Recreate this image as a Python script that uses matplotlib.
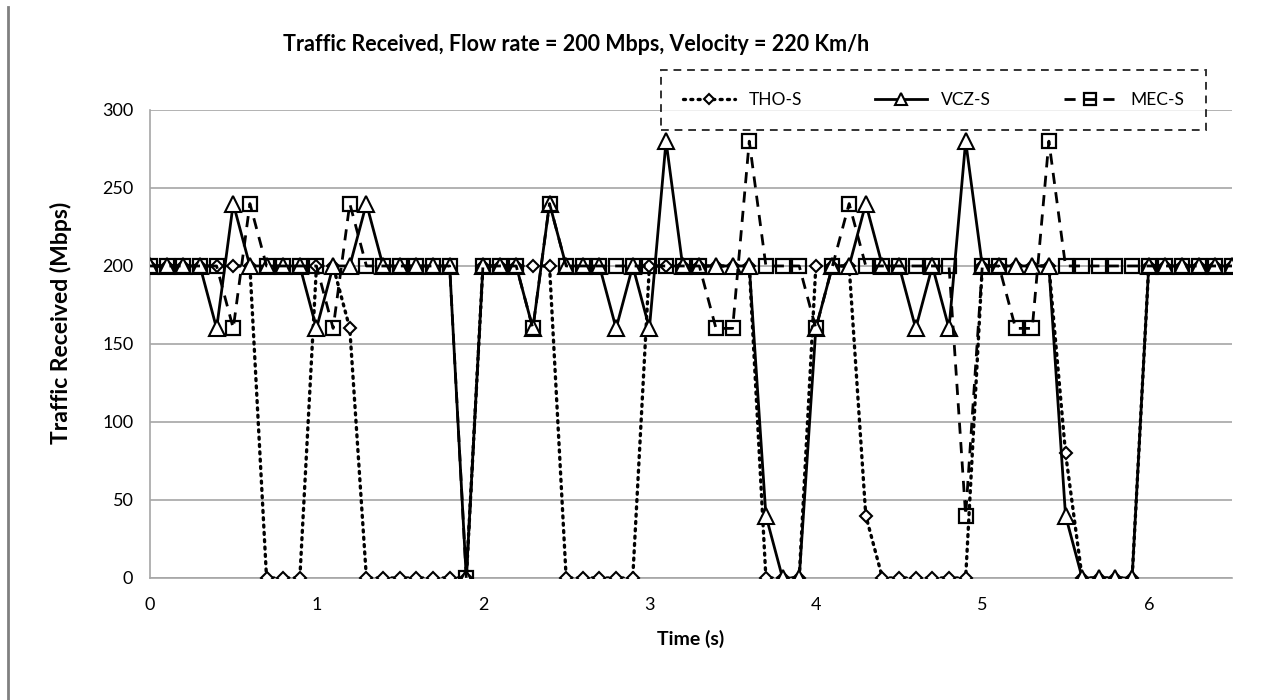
import numpy as np
import matplotlib.pyplot as plt
from matplotlib.lines import Line2D

plt.rcParams['font.family'] = ['Lato', 'DejaVu Sans']

# time axis, 0.0 .. 6.5 s in 0.1 s steps
time_s = np.round(np.arange(0, 6.51, 0.1), 1)

tho_s = [200, 200, 200, 200, 200, 200, 200, 0, 0, 0,
         200, 200, 160, 0, 0, 0, 0, 0, 0, 0,
         200, 200, 200, 200, 200, 0, 0, 0, 0, 0,
         200, 200, 200, 200, 200, 200, 200, 0, 0, 0,
         200, 200, 200, 40, 0, 0, 0, 0, 0, 0,
         200, 200, 200, 200, 200, 80, 0, 0, 0, 0,
         200, 200, 200, 200, 200, 200]

vcz_s = [200, 200, 200, 200, 160, 240, 200, 200, 200, 200,
         160, 200, 200, 240, 200, 200, 200, 200, 200, 0,
         200, 200, 200, 160, 240, 200, 200, 200, 160, 200,
         160, 280, 200, 200, 200, 200, 200, 40, 0, 0,
         160, 200, 200, 240, 200, 200, 160, 200, 160, 280,
         200, 200, 200, 200, 200, 40, 0, 0, 0, 0,
         200, 200, 200, 200, 200, 200]

mec_s = [200, 200, 200, 200, 200, 160, 240, 200, 200, 200,
         200, 160, 240, 200, 200, 200, 200, 200, 200, 0,
         200, 200, 200, 160, 240, 200, 200, 200, 200, 200,
         200, 200, 200, 200, 160, 160, 280, 200, 200, 200,
         160, 200, 240, 200, 200, 200, 200, 200, 200, 40,
         200, 200, 160, 160, 280, 200, 200, 200, 200, 200,
         200, 200, 200, 200, 200, 200]

fig = plt.figure(figsize=(12.65, 7), dpi=100)
ax = fig.add_axes([0.1186, 0.1743, 0.8553, 0.6686])

ax.plot(time_s, tho_s, linestyle=(0, (0.6, 1.6)), dash_capstyle='round', color='black', lw=2.4,
        marker='D', markersize=6.5, markerfacecolor='white', markeredgecolor='black',
        markeredgewidth=1.5, label='THO-S', zorder=3)
ax.plot(time_s, vcz_s, linestyle='-', color='black', lw=2,
        marker='^', markersize=11, markerfacecolor='white', markeredgecolor='black',
        markeredgewidth=1.5, label='VCZ-S', zorder=4)
ax.plot(time_s, mec_s, linestyle=(0, (4, 3)), color='black', lw=2,
        marker='s', markersize=10, markerfacecolor='none', markeredgecolor='black',
        markeredgewidth=1.6, label='MEC-S', zorder=5)

ax.set_xlim(0, 6.5)
ax.set_ylim(0, 300)
ax.set_xticks([0, 1, 2, 3, 4, 5, 6])
ax.set_yticks([0, 50, 100, 150, 200, 250, 300])
ax.tick_params(length=0, labelsize=13, pad=12)
ax.tick_params(axis='x', pad=14)
ax.yaxis.grid(True, color='#a6a6a6', lw=1.2)
ax.set_axisbelow(True)
for side in ['top', 'right']:
    ax.spines[side].set_visible(False)
for side in ['left', 'bottom']:
    ax.spines[side].set_color('#a6a6a6')
    ax.spines[side].set_linewidth(1.2)

ax.set_xlabel('Time (s)', fontsize=14, fontweight='bold', labelpad=12)
ax.set_ylabel('Traffic Received (Mbps)', fontsize=16.5, fontweight='bold')
ax.yaxis.set_label_coords(-0.072, 0.545)
fig.suptitle('Traffic Received, Flow rate = 200 Mbps, Velocity = 220 Km/h',
             x=0.4555, y=0.952, fontsize=15.5, fontweight='bold')

leg = ax.legend(loc='center', bbox_to_anchor=(0.724, 1.021), ncol=3, frameon=True,
                fontsize=12.5, handlelength=3, columnspacing=4.2, borderpad=1.25,
                markerscale=0.85, fancybox=False, edgecolor='black')
leg.get_frame().set_linestyle((0, (4, 3)))
leg.get_frame().set_linewidth(1.4)

# thin border line on the far left of the image
fig.add_artist(Line2D([0.0065, 0.0065], [0.0, 0.99], color='#808080', lw=2))

fig.savefig('out.png', dpi=100)
